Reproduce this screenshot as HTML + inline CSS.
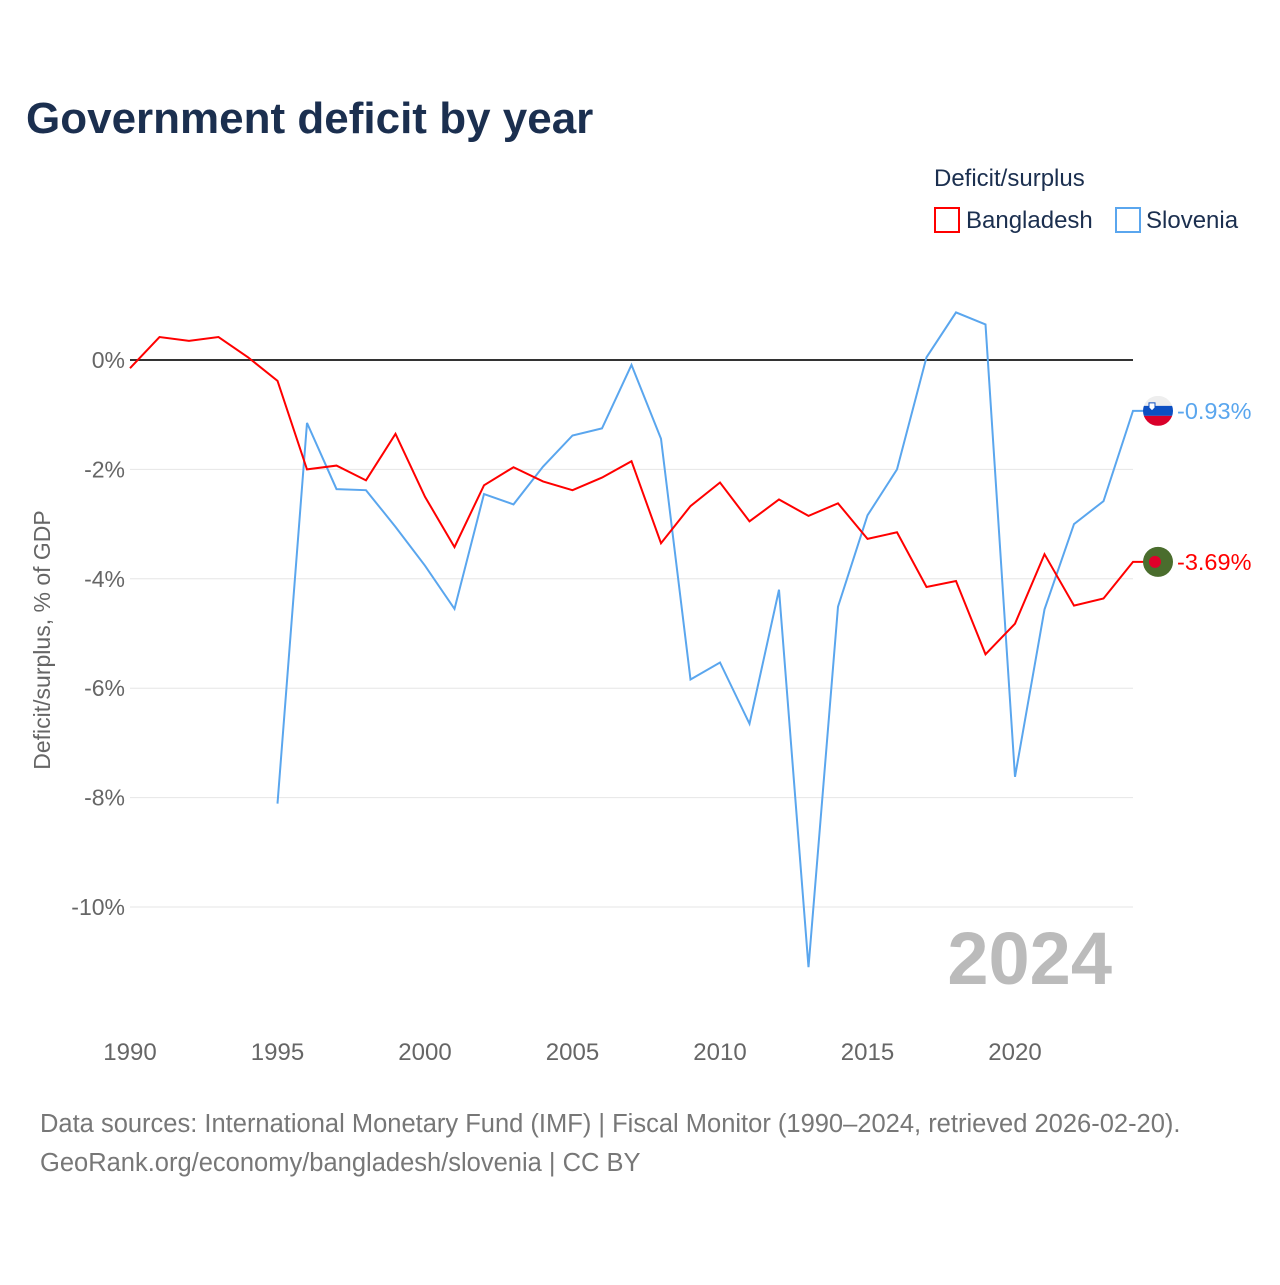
<!DOCTYPE html>
<html><head><meta charset="utf-8"><style>
body{margin:0;background:#fff;font-family:"Liberation Sans",sans-serif}
</style></head><body>
<svg id="c" width="1280" height="1280" xmlns="http://www.w3.org/2000/svg" font-family="Liberation Sans, sans-serif">
<text x="26" y="133" font-size="44" font-weight="bold" fill="#1b2f4f">Government deficit by year</text>
<text x="934" y="186" font-size="24" fill="#1b2f4f">Deficit/surplus</text>
<g><rect x="935" y="208" width="24" height="24" fill="none" stroke="#f00" stroke-width="2"/><text x="966" y="228" font-size="24" fill="#1b2f4f">Bangladesh</text></g>
<g><rect x="1116" y="208" width="24" height="24" fill="none" stroke="#5aa6ee" stroke-width="2"/><text x="1146" y="228" font-size="24" fill="#1b2f4f">Slovenia</text></g>
<g id="grid"></g><g id="lines"></g>
<text x="1112" y="984" font-size="74" font-weight="bold" fill="#bbb" text-anchor="end">2024</text>
<text transform="translate(50,640) rotate(-90)" font-size="23" fill="#666" text-anchor="middle">Deficit/surplus, % of GDP</text>
<text x="40" y="1132" font-size="25.5" fill="#777">Data sources: International Monetary Fund (IMF) | Fiscal Monitor (1990–2024, retrieved 2026-02-20).</text>
<text x="40" y="1171" font-size="25.5" fill="#777">GeoRank.org/economy/bangladesh/slovenia | CC BY</text>
</svg>
<script>
const years=[1990,1991,1992,1993,1994,1995,1996,1997,1998,1999,2000,2001,2002,2003,2004,2005,2006,2007,2008,2009,2010,2011,2012,2013,2014,2015,2016,2017,2018,2019,2020,2021,2022,2023,2024];
const bangladesh=[-0.15,0.42,0.35,0.42,0.05,-0.38,-2.0,-1.93,-2.2,-1.35,-2.5,-3.42,-2.29,-1.96,-2.22,-2.38,-2.15,-1.85,-3.35,-2.67,-2.24,-2.95,-2.55,-2.85,-2.62,-3.27,-3.15,-4.15,-4.04,-5.38,-4.82,-3.55,-4.49,-4.36,-3.69];
const slovenia=[null,null,null,null,null,-8.11,-1.15,-2.36,-2.38,-3.05,-3.76,-4.55,-2.45,-2.64,-1.95,-1.38,-1.25,-0.09,-1.44,-5.84,-5.53,-6.65,-4.2,-11.1,-4.51,-2.84,-2.0,0.05,0.87,0.65,-7.62,-4.56,-3.0,-2.58,-0.93];
const yTicks=[0,-2,-4,-6,-8,-10];
const xTicks=[1990,1995,2000,2005,2010,2015,2020];
const ns="http://www.w3.org/2000/svg";
const X=y=>130+(y-1990)*29.5, Y=v=>360-v*54.7;
function mk(t,a,p){const e=document.createElementNS(ns,t);for(const k in a)e.setAttribute(k,a[k]);p.appendChild(e);return e;}
const g=document.getElementById('grid'),L=document.getElementById('lines');
yTicks.forEach(v=>{
 const l=mk('line',{x1:130,x2:1133,y1:Y(v),y2:Y(v),stroke:v===0?'#333':'#e6e6e6','stroke-width':v===0?2:1},g);
 
 
 const t=mk('text',{x:125,y:Y(v)+8,'font-size':23,fill:'#666','text-anchor':'end'},g);t.textContent=v+'%';
 
 
});
xTicks.forEach(y=>{const t=mk('text',{x:X(y),y:1060,'font-size':24,fill:'#666','text-anchor':'middle'},g);t.textContent=y;
 
 });
function series(vals,col,name){
 let d='';vals.forEach((v,i)=>{if(v===null)return;d+=(d?'L':'M')+X(years[i])+','+Y(v);});
 const last=vals[vals.length-1];d+='L1145,'+Y(last);
 const p=mk('path',{d:d,fill:'none',stroke:col,'stroke-width':2},L);
 
 
 const t=mk('text',{x:1177,y:Y(last)+8,'font-size':23.5,fill:col},L);t.textContent=last.toFixed(2)+'%';
 
 
 return Y(last);
}
const ys=series(slovenia,'#5aa6ee','slovenia');
const yb=series(bangladesh,'#f00','bangladesh');
const fs=mk('g',{},L);
const cp=mk('clipPath',{id:'cs'},fs);mk('circle',{cx:1158,cy:ys,r:15},cp);
mk('rect',{x:1143,y:ys-15,width:30,height:10,fill:'#eee','clip-path':'url(#cs)'},fs);
mk('rect',{x:1143,y:ys-5,width:30,height:10,fill:'#0c4fc2','clip-path':'url(#cs)'},fs);
mk('rect',{x:1143,y:ys+5,width:30,height:10,fill:'#d9002a','clip-path':'url(#cs)'},fs);
mk('path',{d:`M1149 ${ys-8}h6v5l-3 3-3-3z`,fill:'#fff',stroke:'#0c4fc2'},fs);
const fb=mk('g',{},L);
mk('circle',{cx:1158,cy:yb,r:15,fill:'#4a6d2d'},fb);
mk('circle',{cx:1155,cy:yb,r:6,fill:'#e0002a'},fb);
</script>
</body></html>
